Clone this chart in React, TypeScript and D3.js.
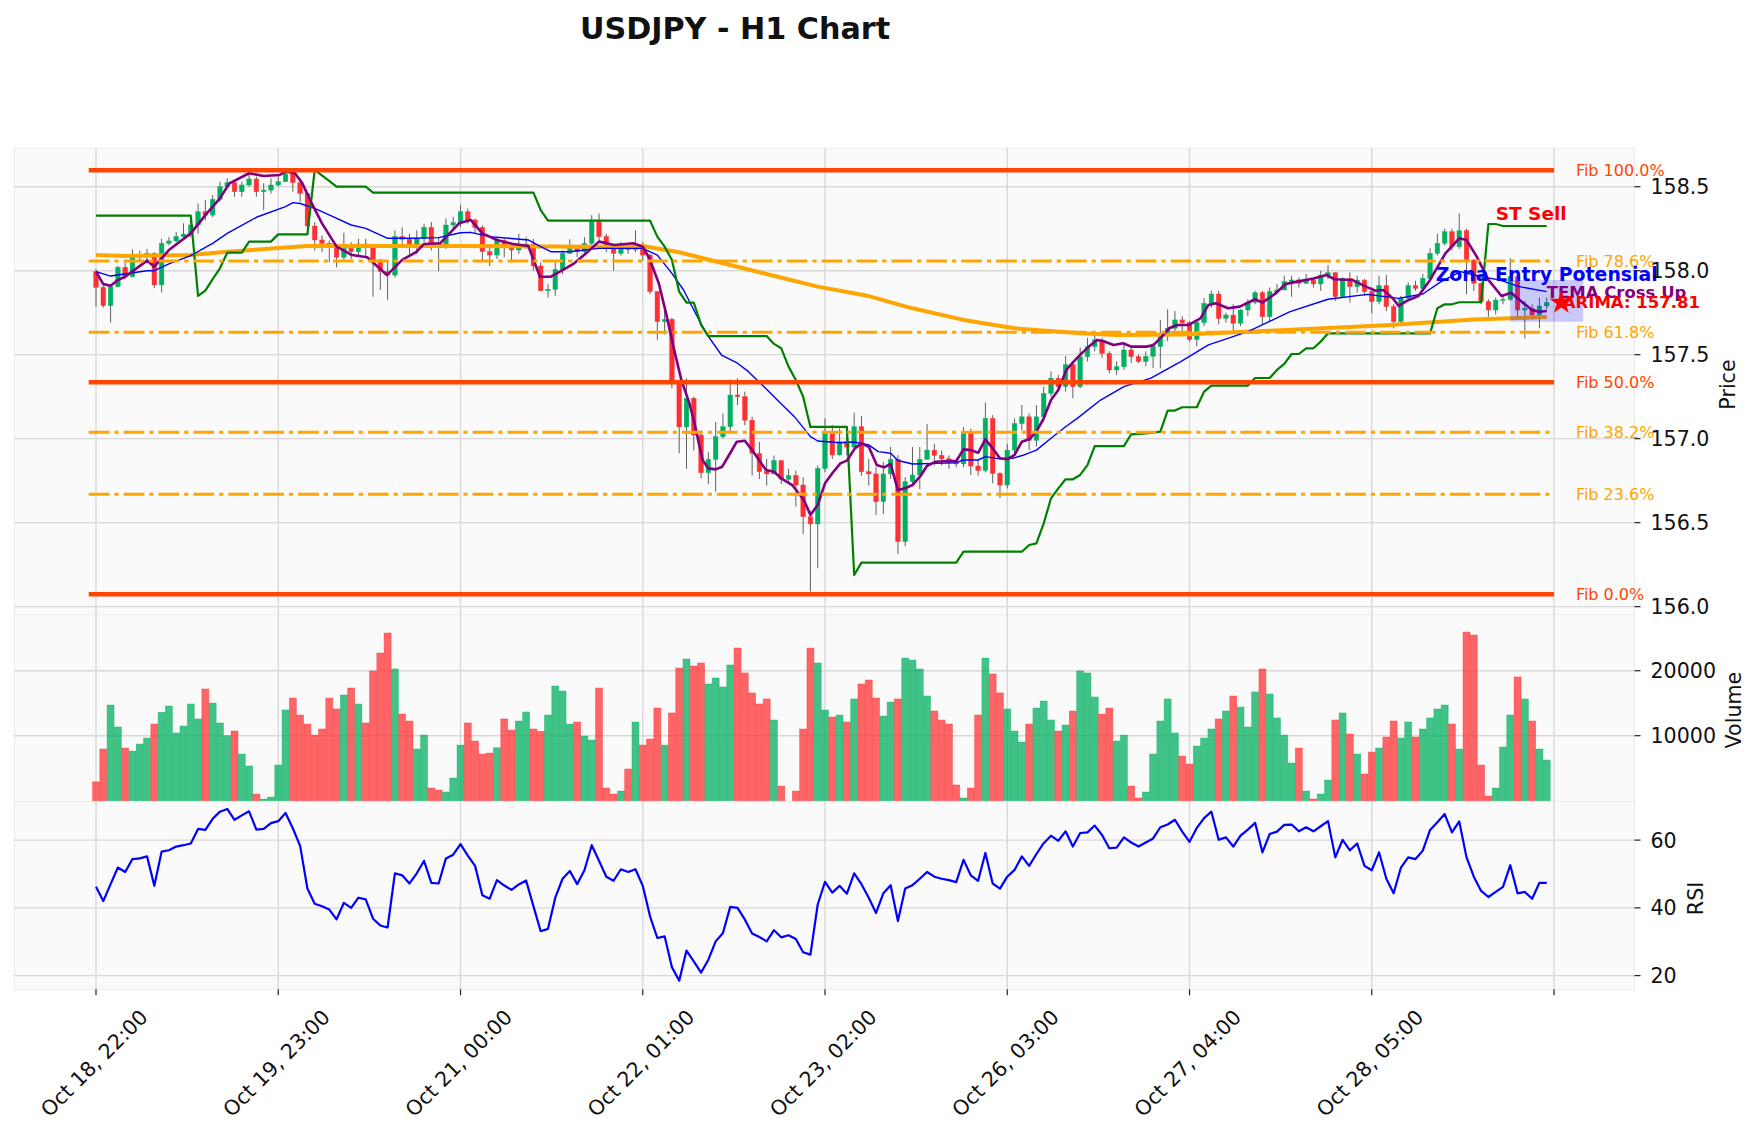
import React from "react";
import * as d3 from "d3";

const TITLE = "USDJPY - H1 Chart";
const firstOpen = 157.994;
const closes = [
  157.901, 157.792, 157.905, 158.02, 157.964, 158.083, 158.093, 158.103, 157.915, 158.163,
  158.177, 158.203, 158.218, 158.272, 158.351, 158.331, 158.425, 158.5, 158.524, 158.47,
  158.51, 158.546, 158.47, 158.48, 158.51, 158.53, 158.576, 158.524, 158.46, 158.266,
  158.183, 158.163, 158.147, 158.08, 158.133, 158.113, 158.159, 158.143, 158.064, 157.994,
  157.974, 158.203, 158.187, 158.147, 158.193, 158.258, 158.163, 158.159, 158.272, 158.286,
  158.351, 158.302, 158.258, 158.113, 158.093, 158.179, 158.143, 158.123, 158.147, 158.159,
  158.028, 157.881, 157.889, 158.008, 158.103, 158.133, 158.113, 158.163, 158.292, 158.203,
  158.133, 158.103, 158.133, 158.125, 158.15, 158.093, 157.875, 157.697, 157.71, 157.349,
  157.07, 157.24, 157.022, 156.797, 156.877, 157.012, 157.071, 157.26, 157.25, 157.11,
  156.913, 156.803, 156.79, 156.87, 156.758, 156.78, 156.724, 156.535, 156.492, 156.823,
  157.032, 156.903, 156.982, 156.95, 157.071, 156.803, 156.79, 156.625, 156.79, 156.877,
  156.387, 156.744, 156.784, 156.877, 156.932, 156.9, 156.88, 156.86, 156.85, 157.038,
  156.837, 156.81, 157.121, 156.793, 156.724, 156.932, 157.09, 157.13, 156.99, 157.13,
  157.27, 157.359, 157.31, 157.44, 157.31, 157.488, 157.548, 157.588, 157.508, 157.409,
  157.428, 157.528, 157.488, 157.459, 157.49, 157.548, 157.627, 157.657, 157.707, 157.69,
  157.591, 157.691, 157.806, 157.861, 157.716, 157.736, 157.687, 157.766, 157.812, 157.869,
  157.726, 157.875, 157.885, 157.935, 157.945, 157.925, 157.945, 157.921, 157.974, 157.988,
  157.845, 157.954, 157.905, 157.944, 157.875, 157.816, 157.911, 157.786, 157.697, 157.836,
  157.911, 157.895, 157.954, 158.103, 158.163, 158.232, 158.143, 158.238, 158.063, 157.925,
  157.816, 157.766, 157.825, 157.829, 157.964, 157.766, 157.776, 157.736, 157.79, 157.81,
];
const highs = [
  158.01, 157.91, 157.92, 158.03, 158.05, 158.127, 158.12, 158.13, 158.11, 158.19,
  158.2, 158.23, 158.282, 158.3, 158.4, 158.42, 158.45, 158.53, 158.55, 158.54,
  158.53, 158.57, 158.56, 158.52, 158.55, 158.56, 158.598, 158.59, 158.55, 158.47,
  158.29, 158.21, 158.18, 158.16, 158.226, 158.17, 158.19, 158.19, 158.16, 158.07,
  158.06, 158.24, 158.258, 158.22, 158.24, 158.28, 158.29, 158.2, 158.31, 158.32,
  158.39, 158.37, 158.31, 158.27, 158.15, 158.2, 158.19, 158.16, 158.22, 158.2,
  158.19, 158.05, 157.92, 158.05, 158.12, 158.187, 158.15, 158.2, 158.33, 158.34,
  158.22, 158.15, 158.17, 158.16, 158.24, 158.17, 158.1, 157.88, 157.76, 157.72,
  157.35, 157.359, 157.25, 157.05, 156.92, 157.1, 157.15, 157.353, 157.36, 157.28,
  157.13, 156.98, 156.88, 156.9, 156.87, 156.82, 156.81, 156.77, 156.57, 156.84,
  157.121, 157.08, 157.06, 157.05, 157.155, 157.135, 156.88, 156.83, 156.86, 156.952,
  156.902, 156.77, 156.95, 156.95, 157.087, 156.97, 156.93, 156.9, 156.87, 157.07,
  157.06, 156.87, 157.214, 157.14, 156.8, 156.97, 157.12, 157.2, 157.15, 157.2,
  157.31, 157.4, 157.38, 157.492, 157.46, 157.542, 157.6, 157.62, 157.6, 157.52,
  157.46, 157.56, 157.55, 157.5, 157.52, 157.57, 157.707, 157.77, 157.76, 157.73,
  157.7, 157.71, 157.836, 157.881, 157.88, 157.75, 157.8, 157.77, 157.83, 157.88,
  157.88, 157.9, 157.92, 157.97, 157.97, 157.96, 157.98, 157.95, 158.0, 158.034,
  157.99, 157.96, 157.99, 157.97, 157.95, 157.9, 157.97, 157.974, 157.8, 157.85,
  157.93, 157.94, 157.98, 158.133, 158.22, 158.25, 158.25, 158.341, 158.25, 158.07,
  157.93, 157.83, 157.84, 157.86, 158.074, 157.97, 157.82, 157.8, 157.84, 157.84,
];
const lows = [
  157.786, 157.78, 157.691, 157.9, 157.95, 157.96, 158.06, 158.05, 157.895, 157.87,
  158.15, 158.17, 158.2, 158.2, 158.22, 158.3, 158.32, 158.41, 158.49, 158.44,
  158.44, 158.5, 158.44, 158.36, 158.46, 158.5, 158.55, 158.47, 158.41, 158.24,
  158.12, 158.11, 158.05, 158.02, 158.06, 158.07, 158.09, 158.08, 157.845, 157.885,
  157.826, 157.96, 158.15, 158.1, 158.1, 158.17, 158.12, 157.996, 158.13, 158.25,
  158.26, 158.28, 158.22, 158.054, 158.028, 158.07, 158.08, 158.05, 158.1, 158.13,
  158.0, 157.875, 157.84, 157.85, 157.98, 158.1, 158.08, 158.1, 158.15, 158.17,
  158.11, 158.0, 158.09, 158.1, 158.11, 158.06, 157.86, 157.588, 157.62, 157.3,
  156.913, 156.82, 156.93, 156.764, 156.73, 156.684, 157.0, 157.03, 157.2, 157.08,
  156.78, 156.76, 156.72, 156.8, 156.73, 156.74, 156.595, 156.433, 156.089, 156.228,
  156.8, 156.88, 156.9, 156.9, 156.93, 156.78, 156.72, 156.545, 156.55, 156.76,
  156.313, 156.36, 156.73, 156.7, 156.9, 156.84, 156.84, 156.82, 156.83, 156.83,
  156.784, 156.78, 156.8, 156.734, 156.645, 156.704, 156.9, 157.05, 156.933, 156.953,
  157.1, 157.25, 157.294, 157.28, 157.24, 157.3, 157.46, 157.52, 157.48, 157.39,
  157.38, 157.41, 157.45, 157.449, 157.43, 157.42, 157.419, 157.58, 157.62, 157.63,
  157.578, 157.55, 157.67, 157.78, 157.68, 157.69, 157.631, 157.67, 157.73, 157.8,
  157.68, 157.697, 157.86, 157.9, 157.845, 157.9, 157.92, 157.9, 157.88, 157.95,
  157.82, 157.84, 157.81, 157.87, 157.85, 157.746, 157.8, 157.76, 157.657, 157.68,
  157.83, 157.88, 157.89, 157.94, 158.09, 158.15, 158.12, 158.13, 157.86, 157.88,
  157.8, 157.726, 157.74, 157.8, 157.82, 157.73, 157.597, 157.72, 157.657, 157.77,
];
const volumes = [
  2900, 7950, 14720, 11340, 8100, 7640, 8720, 9640, 11800, 13600,
  14570, 10420, 11490, 14880, 12580, 17190, 15030, 11960, 10000, 10720,
  7180, 5340, 1030, 260, 560, 5490, 13960, 15800, 13180, 11800,
  10100, 11030, 15800, 14110, 16260, 17340, 14880, 11960, 19960, 22720,
  25800, 20270, 13330, 12260, 7950, 10100, 1950, 1640, 1340, 3490,
  8560, 11960, 9180, 7180, 7330, 8150, 12580, 10870, 12260, 13650,
  11030, 10670, 13180, 17650, 16870, 11800, 12110, 9950, 9330, 17340,
  1950, 1030, 1490, 4880, 12110, 8560, 9490, 14260, 8560, 13500,
  20420, 21800, 20730, 21190, 17960, 18880, 17500, 20880, 23490, 19650,
  16570, 14880, 15650, 12420, 2260, 0, 1490, 11030, 23490, 21190,
  13960, 12880, 13180, 12110, 15650, 17960, 18570, 15800, 13020, 15180,
  15650, 21950, 21640, 20260, 16110, 13800, 12420, 11800, 2420, 420,
  1950, 13180, 21950, 19500, 16580, 14110, 10720, 9030, 11800, 14260,
  15340, 12420, 10720, 11650, 13800, 19960, 19650, 15960, 13330, 14260,
  9180, 10100, 2260, 420, 1340, 7180, 12260, 15650, 10420, 6870,
  5640, 8410, 9640, 11030, 12580, 13800, 16110, 14410, 11340, 16730,
  20270, 16420, 12730, 10100, 5800, 8100, 1490, 260, 1030, 3180,
  12420, 13500, 10260, 7180, 4110, 7490, 8100, 9800, 12260, 9640,
  12110, 9800, 11030, 12730, 14110, 14720, 11800, 7950, 25950, 25490,
  5490, 720, 1950, 8260, 13180, 19040, 15650, 12260, 7950, 6260,
];
const rsiValues = [
  46.2, 42.0, 47.0, 51.9, 50.6, 54.4, 54.6, 55.2, 46.5, 56.6,
  57.0, 58.1, 58.5, 59.0, 63.3, 63.0, 66.3, 68.4, 69.2, 66.0,
  67.3, 68.5, 63.1, 63.3, 65.0, 65.6, 68.0, 63.5, 58.3, 45.7,
  41.2, 40.5, 39.5, 36.6, 41.5, 40.0, 43.0, 42.5, 36.8, 34.8,
  34.2, 50.2, 49.6, 47.2, 50.2, 53.9, 47.4, 47.2, 54.6, 55.7,
  58.8, 55.4, 52.4, 43.7, 42.7, 48.2, 46.6, 45.3, 46.9, 48.1,
  40.5, 33.1, 33.8, 43.0, 48.6, 50.9, 47.0, 51.1, 58.5, 53.9,
  49.2, 48.0, 51.4, 50.6, 51.4, 46.5, 37.5, 31.1, 31.6, 22.5,
  18.5, 27.4, 24.2, 20.9, 24.7, 30.1, 32.6, 40.3, 40.0, 36.6,
  32.4, 31.4, 30.1, 33.4, 31.3, 31.9, 30.8, 26.9, 26.2, 41.0,
  47.7, 44.5, 46.5, 44.2, 50.2, 47.0, 43.0, 38.5, 44.3, 46.7,
  36.1, 45.7, 46.7, 48.6, 50.6, 49.2, 48.6, 48.2, 47.6, 54.2,
  49.6, 48.0, 56.2, 47.2, 45.7, 49.2, 51.2, 55.2, 52.4, 55.9,
  59.1, 61.3, 59.8, 62.6, 58.1, 62.1, 62.3, 64.3, 61.5, 57.6,
  57.8, 60.8, 59.3, 58.1, 59.3, 60.5, 63.8, 64.6, 66.0, 62.5,
  59.5, 63.6, 66.5, 68.4, 60.1, 60.8, 58.1, 61.3, 63.1, 65.1,
  56.4, 61.8, 62.5, 64.5, 64.6, 62.6, 63.8, 62.6, 64.1, 65.6,
  54.9, 60.1, 57.0, 59.0, 52.4, 51.1, 56.4, 48.6, 44.3, 51.9,
  54.9, 54.4, 56.9, 63.0, 65.3, 67.7, 62.3, 65.5, 54.9, 49.2,
  45.0, 43.2, 44.7, 46.2, 52.6, 44.3, 44.7, 42.7, 47.4, 47.4,
];

// Indicator lines as (bar index, price) vertices
const smaLine: [number, number][] = [
  [0, 158.093], [4, 158.088], [13, 158.093], [18, 158.113], [29, 158.147], [50, 158.147],
  [69, 158.143], [75, 158.147], [80, 158.11], [87, 158.034], [99, 157.905], [106, 157.849],
  [112, 157.776], [119, 157.707], [126, 157.657], [135, 157.627], [140, 157.617], [149, 157.62],
  [161, 157.643], [177, 157.675], [189, 157.71], [199, 157.724],
];
const emaLine: [number, number][] = [
  [0, 157.994], [2, 157.968], [7, 158.0], [8, 158.0], [10, 158.04], [13, 158.09], [16, 158.163],
  [18, 158.222], [22, 158.318], [26, 158.381], [27, 158.405], [28, 158.4], [30, 158.371],
  [32.5, 158.322], [35, 158.272], [37, 158.252], [40, 158.193], [43.5, 158.193], [47, 158.197],
  [50, 158.226], [51.4, 158.228], [54, 158.203], [56.6, 158.193], [59.3, 158.183], [61, 158.143],
  [62.4, 158.113], [65, 158.113], [67.7, 158.127], [69, 158.133], [75, 158.133], [77, 158.093],
  [79, 157.984], [80.6, 157.885], [82, 157.766], [83.7, 157.627], [85.8, 157.498], [88, 157.449],
  [89.5, 157.399], [91.6, 157.31], [93.7, 157.22], [95.8, 157.131], [98, 157.012], [99, 156.986],
  [102, 156.976], [104, 156.98], [106, 156.963], [107.3, 156.923], [109, 156.913], [110, 156.87],
  [112, 156.849], [115, 156.853], [118, 156.857], [119, 156.873], [121, 156.873], [122, 156.893],
  [124, 156.88], [125.7, 156.883], [127.3, 156.903], [129, 156.932], [131, 157.002], [133, 157.071],
  [134.6, 157.121], [137.8, 157.23], [141, 157.31], [144.7, 157.36], [148.8, 157.459],
  [152.6, 157.558], [158, 157.637], [163.8, 157.756], [169, 157.83], [174.4, 157.859],
  [178.7, 157.835], [182, 157.861], [184.5, 157.935], [187.2, 157.994], [190, 157.964],
  [192.5, 157.945], [195.2, 157.905], [199, 157.875],
];
const temaLine: [number, number][] = [
  [0, 157.994], [1, 157.92], [2, 157.91], [3, 157.944], [4, 157.964], [7, 158.06], [8, 158.024],
  [10, 158.123], [13, 158.222], [15, 158.331], [17, 158.431], [18.3, 158.52], [21, 158.58],
  [23, 158.564], [25.2, 158.57], [26, 158.59], [27.3, 158.58], [28.3, 158.52], [29.6, 158.401],
  [31, 158.282], [33, 158.143], [35.1, 158.093], [37.2, 158.08], [39.9, 157.974], [42, 158.064],
  [44, 158.113], [45, 158.159], [47.2, 158.163], [49.8, 158.282], [51.4, 158.302], [53, 158.222],
  [55, 158.183], [57.2, 158.159], [59.3, 158.147], [60.9, 157.964], [62.4, 157.964], [64, 158.004],
  [65.6, 158.044], [67.2, 158.103], [69, 158.173], [71.1, 158.153], [73.7, 158.163], [75, 158.143],
  [75.9, 158.074], [77.2, 157.925], [78.2, 157.746], [79.2, 157.548], [80.3, 157.349],
  [81.4, 157.21], [82.1, 157.091], [83.2, 156.873], [84, 156.823], [85, 156.817], [85.9, 156.833],
  [87.1, 156.922], [87.9, 156.982], [89, 156.988], [90, 156.932], [91.9, 156.813], [93, 156.803],
  [94, 156.764], [95.5, 156.724], [97.1, 156.635], [98, 156.546], [99, 156.605], [100, 156.734],
  [101, 156.794], [102.1, 156.853], [103, 156.869], [104.1, 156.942], [105, 156.972],
  [106, 156.952], [107.1, 156.843], [108.1, 156.829], [109, 156.849], [110, 156.694],
  [111, 156.704], [112, 156.724], [113.1, 156.778], [114, 156.839], [115.2, 156.863],
  [117, 156.867], [118, 156.867], [119, 156.936], [120, 156.932], [121, 156.916], [122, 156.996],
  [123, 156.942], [124, 156.883], [125, 156.877], [126, 156.903], [127, 156.982], [128, 156.996],
  [129, 157.042], [130, 157.121], [131, 157.23], [132, 157.29], [133.1, 157.409], [134.1, 157.459],
  [135.2, 157.508], [136.2, 157.548], [137.3, 157.588], [138.3, 157.578], [139.6, 157.558],
  [140.9, 157.568], [142, 157.548], [144.1, 157.548], [145.1, 157.558], [146.2, 157.607],
  [147.2, 157.657], [148.3, 157.677], [149.9, 157.677], [151.5, 157.716], [152.6, 157.796],
  [153.6, 157.806], [155.3, 157.776], [156.9, 157.786], [159, 157.83], [160, 157.81],
  [161.7, 157.861], [163.2, 157.921], [164.8, 157.935], [167, 157.954], [168.8, 157.974],
  [169.9, 157.949], [172.3, 157.945], [174.2, 157.905], [175.5, 157.881], [176.6, 157.885],
  [177.9, 157.835], [178.7, 157.79], [179.8, 157.82], [181.4, 157.849], [183, 157.945],
  [185.1, 158.103], [187, 158.193], [188, 158.183], [189.4, 158.084], [191, 157.945],
  [192.8, 157.849], [194.1, 157.869], [195.7, 157.81], [197, 157.766], [197.9, 157.756],
  [199, 157.76],
];
const superTrendLine: [number, number][] = [
  [0, 158.328], [13, 158.328], [14, 157.85], [15, 157.881], [16, 157.95], [17, 158.014],
  [18, 158.107], [20, 158.107], [21, 158.173], [24, 158.173], [25, 158.216], [29, 158.216],
  [30, 158.6], [33, 158.5], [37, 158.5], [38, 158.465], [60, 158.465], [61, 158.361],
  [62, 158.298], [76, 158.298], [77, 158.203], [78, 158.143], [79, 158.064], [80, 157.875],
  [81, 157.81], [82, 157.81], [83, 157.677], [84, 157.611], [92, 157.611], [93, 157.564],
  [94, 157.538], [95, 157.429], [96, 157.349], [97, 157.25], [98, 157.07], [103, 157.07],
  [104, 156.188], [105, 156.262], [118, 156.262], [119, 156.327], [127, 156.327],
  [128, 156.367], [129, 156.377], [130, 156.496], [131, 156.645], [132, 156.704],
  [133, 156.758], [134, 156.758], [135, 156.784], [136, 156.843], [137, 156.956],
  [141, 156.956], [142, 157.026], [144, 157.032], [146, 157.042], [147, 157.167],
  [148, 157.167], [149, 157.187], [151, 157.187], [152, 157.28], [153, 157.316],
  [158, 157.316], [159, 157.361], [161, 157.361], [162, 157.409], [163, 157.445],
  [164, 157.504], [165, 157.504], [166, 157.538], [167, 157.538], [168, 157.578],
  [169, 157.627], [183, 157.627], [184, 157.776], [185, 157.8], [186, 157.8],
  [187, 157.812], [190, 157.812], [191, 158.278], [192, 158.278], [193, 158.266],
  [199, 158.266],
];

const tickIndex = [0, 25, 50, 75, 100, 125, 150, 175, 200];
const tickLabels = [
  "Oct 18, 22:00", "Oct 19, 23:00", "Oct 21, 00:00", "Oct 22, 01:00",
  "Oct 23, 02:00", "Oct 26, 03:00", "Oct 27, 04:00", "Oct 28, 05:00", "",
];
const priceTicks = [156.0, 156.5, 157.0, 157.5, 158.0, 158.5];
const volumeTicks = [10000, 20000];
const rsiTicks = [20, 40, 60];

const fibPercents = [0, 23.6, 38.2, 50, 61.8, 78.6, 100];
const fibLow = 156.074;
const fibHigh = 158.598;

const zoneBox = { i0: 194, i1: 204, p0: 157.696, p1: 157.945 };
const annotations = [
  { text: "ST Sell", i: 192, p: 158.302, color: "#ff0000", size: 18.5, anchor: "start" },
  { text: "Zona Entry Potensial", i: 199, p: 157.939, color: "#0000ff", size: 18.9, anchor: "middle" },
  { text: "TEMA Cross Up", i: 199, p: 157.839, color: "#800080", size: 16.5, anchor: "start" },
  { text: "ARIMA: 157.81", i: 201.2, p: 157.776, color: "#ff0000", size: 16.5, anchor: "start" },
];
const forecast = { i: 201, p: 157.81 };

const UP = "#00b060";
const DOWN = "#fe3032";
const FONT = "DejaVu Sans, Liberation Sans, sans-serif";
const TICK_FONT = 20.6;

export default function App() {
  const W = 1759;
  const H = 1133;
  const left = 14.5;
  const right = 1634.5;
  const mainTop = 148.3;
  const mainBot = 614.7;
  const volTop = 614.7;
  const volBot = 801.5;
  const rsiTop = 801.5;
  const rsiBot = 989.3;

  const x = d3.scaleLinear().domain([-11.18, 211.04]).range([left, right]);
  const yP = d3.scaleLinear().domain([155.952, 158.7286]).range([mainBot, mainTop]);
  const yV = d3.scaleLinear().domain([0, 28615]).range([800.7, volTop]);
  const yR = d3.scaleLinear().domain([15.96, 71.4]).range([rsiBot, rsiTop]);
  const step = x(1) - x(0);

  const opens = closes.map((c, i) => (i === 0 ? firstOpen : closes[i - 1]));
  const priceLine = d3.line<[number, number]>().x((d) => x(d[0])).y((d) => yP(d[1]));
  const rsiLine = d3
    .line<number>()
    .x((_, i) => x(i))
    .y((d) => yR(d));

  const star = d3.symbol().type(d3.symbolStar).size((12.5 * 12.5) / 0.8908130915292852)();

  const gridColor = "#d8d8d8";
  const panels = [
    { top: mainTop, bot: mainBot },
    { top: volTop, bot: volBot },
    { top: rsiTop, bot: rsiBot },
  ];

  const bodyW = 4.6;

  return (
    <div style={{ position: "absolute", left: 0, top: 0, width: W, height: H, background: "#fff" }}>
      <svg width={W} height={H} viewBox={`0 0 ${W} ${H}`} style={{ display: "block", fontFamily: FONT }}>
        <rect x={0} y={0} width={W} height={H} fill="#ffffff" />
        <defs>
          <clipPath id="clipMain">
            <rect x={left} y={mainTop} width={right - left} height={mainBot - mainTop} />
          </clipPath>
        </defs>
        {panels.map((p, k) => (
          <rect key={k} x={left} y={p.top} width={right - left} height={p.bot - p.top} fill="#fafafa" stroke="#ebebeb" strokeWidth={1} />
        ))}
        {panels.map((p, k) =>
          tickIndex.map((t) => (
            <line key={`vg${k}-${t}`} x1={x(t)} x2={x(t)} y1={p.top} y2={p.bot} stroke={gridColor} strokeWidth={1.4} />
          ))
        )}
        {priceTicks.map((t) => (
          <line key={`hp${t}`} x1={left} x2={right} y1={yP(t)} y2={yP(t)} stroke={gridColor} strokeWidth={1.4} />
        ))}
        {volumeTicks.map((t) => (
          <line key={`hv${t}`} x1={left} x2={right} y1={yV(t)} y2={yV(t)} stroke={gridColor} strokeWidth={1.4} />
        ))}
        {rsiTicks.map((t) => (
          <line key={`hr${t}`} x1={left} x2={right} y1={yR(t)} y2={yR(t)} stroke={gridColor} strokeWidth={1.4} />
        ))}

        <g clipPath="url(#clipMain)">
          {closes.map((c, i) => {
            const o = opens[i];
            const up = c >= o;
            const col = up ? UP : DOWN;
            const hi = Math.max(highs[i], o, c);
            const lo = Math.min(lows[i], o, c);
            const yTop = yP(Math.max(o, c));
            const yBot = yP(Math.min(o, c));
            return (
              <g key={`c${i}`}>
                <line x1={x(i)} x2={x(i)} y1={yP(hi)} y2={yP(lo)} stroke="#606060" strokeWidth={1} />
                <rect x={x(i) - bodyW / 2} y={yTop} width={bodyW} height={Math.max(yBot - yTop, 0.8)} fill={col} stroke={col} strokeWidth={0.4} />
              </g>
            );
          })}
          <path d={priceLine(smaLine) || ""} fill="none" stroke="#ffa500" strokeWidth={4} strokeLinejoin="round" />
          <path d={priceLine(emaLine) || ""} fill="none" stroke="#0000ff" strokeWidth={1.4} strokeLinejoin="round" />
          <path d={priceLine(superTrendLine) || ""} fill="none" stroke="#008000" strokeWidth={2.2} strokeLinejoin="round" />
          <path d={priceLine(temaLine) || ""} fill="none" stroke="#800080" strokeWidth={2.6} strokeLinejoin="round" />
          {fibPercents.map((pct) => {
            const price = fibLow + (pct / 100) * (fibHigh - fibLow);
            const major = pct === 0 || pct === 50 || pct === 100;
            return (
              <line
                key={`fib${pct}`}
                x1={x(-1)}
                x2={x(200)}
                y1={yP(price)}
                y2={yP(price)}
                stroke={major ? "#ff4500" : "#ffa500"}
                strokeWidth={major ? 4.5 : 3}
                strokeDasharray={major ? undefined : "20.7,5,4.2,5"}
              />
            );
          })}
          <rect
            x={x(zoneBox.i0)}
            y={yP(zoneBox.p1)}
            width={x(zoneBox.i1) - x(zoneBox.i0)}
            height={yP(zoneBox.p0) - yP(zoneBox.p1)}
            fill="rgba(0,0,255,0.2)"
          />
        </g>

        {fibPercents.map((pct) => {
          const price = fibLow + (pct / 100) * (fibHigh - fibLow);
          const major = pct === 0 || pct === 50 || pct === 100;
          return (
            <text
              key={`fl${pct}`}
              x={x(203)}
              y={yP(price)}
              dy="0.35em"
              fontSize={16}
              fill={major ? "#ff4500" : "#ffa500"}
            >
              {`Fib ${pct.toFixed(1)}%`}
            </text>
          );
        })}

        {volumes.map((v, i) => {
          const up = closes[i] >= opens[i];
          const col = up ? UP : DOWN;
          const w = step * 0.96;
          return (
            <rect
              key={`v${i}`}
              x={x(i) - w / 2}
              y={yV(v)}
              width={w}
              height={yV(0) - yV(v)}
              fill={col}
              fillOpacity={0.74}
              stroke={col}
              strokeOpacity={0.5}
              strokeWidth={0.7}
            />
          );
        })}

        <path d={rsiLine(rsiValues) || ""} fill="none" stroke="#0000ff" strokeWidth={2.2} strokeLinejoin="round" />

        {annotations.map((a) => (
          <text
            key={a.text}
            x={x(a.i)}
            y={yP(a.p)}
            fontSize={a.size}
            fontWeight="bold"
            fill={a.color}
            textAnchor={a.anchor as any}
          >
            {a.text}
          </text>
        ))}
        <path d={star || ""} transform={`translate(${x(forecast.i)},${yP(forecast.p)})`} fill="#ff0000" />

        {priceTicks.map((t) => (
          <g key={`pt${t}`}>
            <line x1={right} x2={right + 6} y1={yP(t)} y2={yP(t)} stroke="#222" strokeWidth={1.2} />
            <text x={right + 16} y={yP(t)} dy="0.36em" fontSize={TICK_FONT} fill="#111">
              {t.toFixed(1)}
            </text>
          </g>
        ))}
        {volumeTicks.map((t) => (
          <g key={`vt${t}`}>
            <line x1={right} x2={right + 6} y1={yV(t)} y2={yV(t)} stroke="#222" strokeWidth={1.2} />
            <text x={right + 16} y={yV(t)} dy="0.36em" fontSize={TICK_FONT} fill="#111">
              {t}
            </text>
          </g>
        ))}
        {rsiTicks.map((t) => (
          <g key={`rt${t}`}>
            <line x1={right} x2={right + 6} y1={yR(t)} y2={yR(t)} stroke="#222" strokeWidth={1.2} />
            <text x={right + 16} y={yR(t)} dy="0.36em" fontSize={TICK_FONT} fill="#111">
              {t}
            </text>
          </g>
        ))}

        <text transform={`translate(1728,${(mainTop + mainBot) / 2 + 3}) rotate(-90)`} textAnchor="middle" dy="0.35em" fontSize={TICK_FONT} fill="#111">
          Price
        </text>
        <text transform={`translate(1734,${(volTop + volBot) / 2 + 2}) rotate(-90)`} textAnchor="middle" dy="0.35em" fontSize={TICK_FONT} fill="#111">
          Volume
        </text>
        <text transform={`translate(1696,${(rsiTop + rsiBot) / 2 + 3}) rotate(-90)`} textAnchor="middle" dy="0.35em" fontSize={TICK_FONT} fill="#111">
          RSI
        </text>

        {tickIndex.map((t, k) => (
          <g key={`xt${t}`}>
            <line x1={x(t)} x2={x(t)} y1={rsiBot} y2={rsiBot + 6} stroke="#222" strokeWidth={1.2} />
            {tickLabels[k] ? (
              <text
                transform={`translate(${x(t) + 48},${rsiBot + 24}) rotate(-45)`}
                textAnchor="end"
                dy="0.35em"
                fontSize={TICK_FONT}
                fill="#111"
              >
                {tickLabels[k]}
              </text>
            ) : null}
          </g>
        ))}

        <text x={735} y={39} textAnchor="middle" fontSize={30.2} fontWeight="bold" fill="#111">
          {TITLE}
        </text>
      </svg>
    </div>
  );
}
